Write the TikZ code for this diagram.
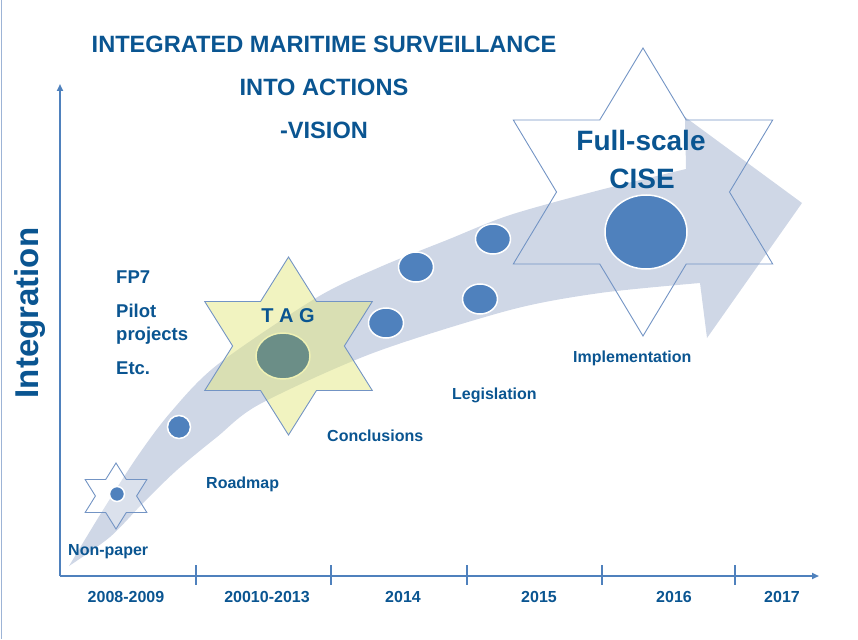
\documentclass[tikz,border=0pt]{standalone}
\usepackage{fontspec}
\setmainfont{Liberation Sans}
\usetikzlibrary{arrows.meta}

\definecolor{txtblue}{RGB}{10,85,145}
\definecolor{axisblue}{RGB}{79,129,189}
\definecolor{dotblue}{RGB}{79,129,189}
\definecolor{bandfill}{RGB}{207,215,230}
\definecolor{starline}{RGB}{115,148,196}
\definecolor{tagyellow}{RGB}{228,232,130}
\definecolor{tagcore}{RGB}{107,142,135}

\tikzset{
	heading/.style={font=\fontsize{23.6}{26}\selectfont\bfseries, text=txtblue, inner sep=0, anchor=base},
	label/.style={font=\fontsize{16}{18}\selectfont\bfseries, text=txtblue, inner sep=0, anchor=base west},
	year/.style={font=\fontsize{16}{18}\selectfont\bfseries, text=txtblue, inner sep=0, anchor=base},
	side/.style={font=\fontsize{18.5}{20}\selectfont\bfseries, text=txtblue, inner sep=0, anchor=base west},
	dot/.style={fill=dotblue, draw=white, line width=1.5pt},
	starrim/.style={draw=starline, line width=0.9pt},
}

% six pointed star: style, centre, radius, xscale
\newcommand{\hexstar}[4]{%
	\begin{scope}[shift={#2}, xscale=#4]
		\draw[#1] (0:#3*0.5774) \foreach \a in {0,60,...,300} { -- (\a+30:#3) -- (\a+60:#3*0.5774) } -- cycle;
	\end{scope}}

\begin{document}
\begin{tikzpicture}[x=1pt,y=-1pt]
		\useasboundingbox (0,0) rectangle (858,639);
		\draw [draw=starline!70, line width=1pt] (1,0) -- (1,639);
		
		% the big curved arrow
		\fill [bandfill] plot [smooth, tension=0.5] coordinates {(69,566) (103,510) (137,457) (170,413) (217,365) (316,298) (380,267) (447,240) (510,215) (600,190) (686,169)}
			-- (685,117) -- (802,203) -- (707,338)
			-- plot [smooth, tension=0.5] coordinates {(700,283) (600,293) (510,310) (373,353) (260,404) (217,437) (177,470) (143,503) (110,537) (69,566)} -- cycle;
		
		% stars
		\hexstar{starrim, fill=white, fill opacity=0.25}{(116,496)}{33}{1.08}
		\hexstar{starrim, fill=tagyellow, fill opacity=0.5}{(288.5,346)}{89}{1.087}
		\hexstar{starrim}{(643,192)}{144}{1.04}
		
		% axes
		\coordinate (O) at (60,576);
		\coordinate (Ytop) at (60,84);
		\coordinate (Xend) at (819,576);
		\draw [-{Triangle[length=7pt,width=6pt]}, axisblue, line width=2pt] (O) -- (Ytop);
		\draw [-{Triangle[length=7pt,width=6pt]}, axisblue, line width=2pt] (O) -- (Xend);
		\foreach \t in {196,331,467,602,735}
			\draw [axisblue, line width=2pt] (\t,565) -- (\t,585);
		
		% milestones
		\draw [dot] (117,494) circle [radius=7.5];
		\draw [dot] (179,427) circle [radius=11.5];
		\draw [fill=tagcore, draw=tagyellow!60, line width=1.5pt] (283,356) ellipse [x radius=27, y radius=23];
		\draw [dot] (386,323) ellipse [x radius=17.5, y radius=15];
		\draw [dot] (416,267) ellipse [x radius=17.5, y radius=15];
		\draw [dot] (480,299) ellipse [x radius=17.5, y radius=15];
		\draw [dot] (493,239) ellipse [x radius=17.5, y radius=15];
		\draw [dot] (646,232) ellipse [x radius=41, y radius=37];
		
		% texts
		\node [heading] (t1) at (324,53) {INTEGRATED MARITIME SURVEILLANCE};
		\node [heading] (t2) at (324,96) {INTO ACTIONS};
		\node [heading] (t3) at (324,139) {-VISION};
		\node [heading, font=\fontsize{33}{36}\selectfont\bfseries, rotate=90] (yl) at (38,313) {Integration};
		
		\node [side] (fp) at (116,283) {FP7};
		\node [side] (pi) at (116,317) {Pilot};
		\node [side] (pr) at (116,340) {projects};
		\node [side] (et) at (116,374) {Etc.};
		
		\node [heading, font=\fontsize{20}{22}\selectfont\bfseries] (tag) at (288,322) {T A G};
		\node [heading, font=\fontsize{28}{30}\selectfont\bfseries] (fs) at (641,151) {Full-scale};
		\node [heading, font=\fontsize{28}{30}\selectfont\bfseries] (cise) at (642,188) {CISE};
		
		\node [label] (np) at (68,555) {Non-paper};
		\node [label] (rm) at (206,488) {Roadmap};
		\node [label] (cc) at (327,441) {Conclusions};
		\node [label] (lg) at (452,399) {Legislation};
		\node [label] (im) at (573,362) {Implementation};
		
		\node [year] (y1) at (126,602) {2008-2009};
		\node [year] (y2) at (267,602) {20010-2013};
		\node [year] (y3) at (403,602) {2014};
		\node [year] (y4) at (539,602) {2015};
		\node [year] (y5) at (674,602) {2016};
		\node [year] (y6) at (782,602) {2017};
\end{tikzpicture}
\end{document}
